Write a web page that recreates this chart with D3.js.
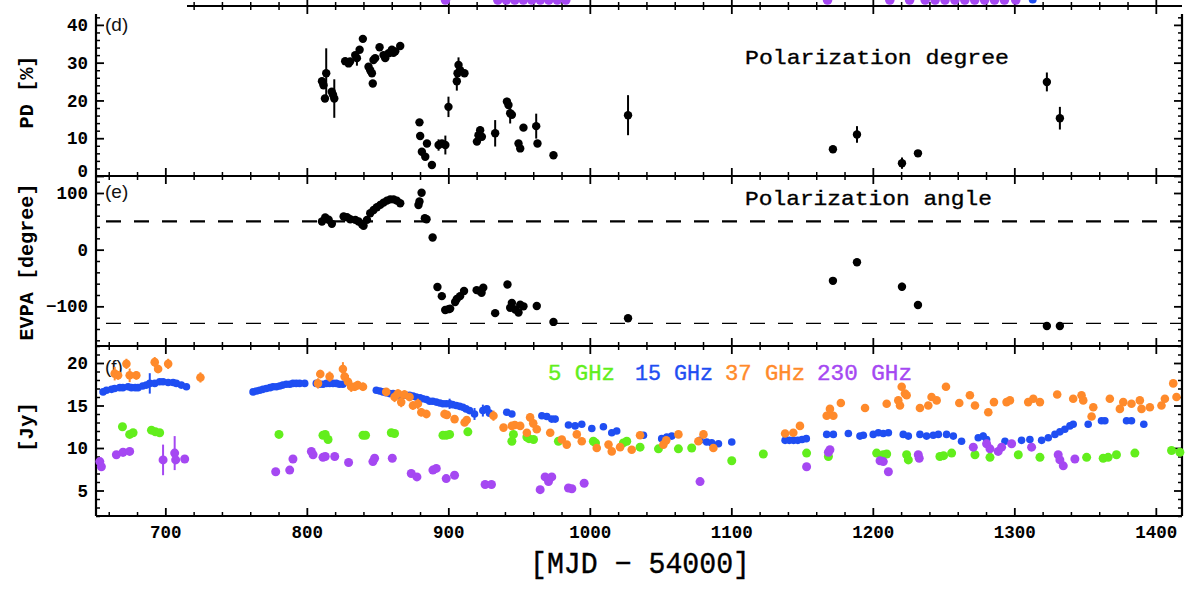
<!DOCTYPE html>
<html><head><meta charset="utf-8">
<script src="https://cdn.jsdelivr.net/npm/d3@7"></script>
<style>body{margin:0;background:#fff}svg{display:block}</style>
</head><body><svg id="c" width="1188" height="589"></svg>
<script>
// ---------------- data ----------------
const xDomain = [651, 1418.5];
const xMajorTicks = [700, 800, 900, 1000, 1100, 1200, 1300, 1400];
const pdTicks = [0, 10, 20, 30, 40];
const evpaTicks = [-100, 0, 100];
const fluxTicks = [5, 10, 15, 20];
const evpaRefLines = [50, -130];
const legendLabels = ["5 GHz", "15 GHz", "37 GHz", "230 GHz"];
const panelTitles = ["Polarization degree", "Polarization angle"];

// [MJD-54000, PD %, error]
const pdData = [[810.7,25.1,0],[811.8,24,0],[812.8,20.5,0],[813.7,27.2,6.6],[817.6,22.3,0],[818.5,21.5,0],[819.4,20.5,5.1],
[827.1,30.4,0],[829.5,29.8,0],[830.6,30.3,0],[834.2,32,0],[835.4,31.2,2],[837.3,33.4,0],[839.6,36.3,0],[843.6,28.9,0],[844.8,28,0],
[846,27.2,0],[846.6,24.5,0],[847.1,30.7,0],[848.3,31.2,0],[851.4,34.1,0],[854.2,32,0],[855.4,31.2,0],[857.8,32.5,0],[860.1,33.4,0],
[861.2,32.6,0],[862.5,33,0],[866,34.4,0],[879.6,14.2,0],[880.1,10.6,0],[881.3,6.4,0],[883.7,5.1,0],[884.9,8.6,0],[888.4,2.9,0],
[893.1,8.2,1.5],[895.5,8.6,0],[897.9,8.2,2.5],[900.1,18.3,2.7],[906,25.1,2.5],[906.5,27.2,0],[907.2,29.4,2],[908.3,28,0],[911.4,27.2,0],
[920.2,9.1,0],[921.3,10.8,0],[922.5,12.1,1],[923.7,10.4,0],[933.1,11.3,3.5],[941.4,19.7,1],[942.5,18.8,0],[943.7,16.6,2.7],[944.9,16.2,0],
[949.6,8.6,0.8],[950.8,7.3,0],[953.1,12.8,0],[962.1,13.2,3.3],[963,8.6,0],[974.3,5.5,0],[1027,16.1,5.3],[1171.8,7.1,0],[1188.8,11,2.2],
[1220.6,3.4,1.5],[1231.9,6,0.5],[1323,24.9,2.5],[1332.2,15.3,3]];

// [MJD-54000, EVPA deg, error]
const evpaData = [[810.7,49.6,0],[813,57,0],[815.4,52.7,0],[817.7,45.6,0],[826,58.4,0],[828.4,57.3,0],[830.7,53.8,0],[834.3,52.6,0],
[836.6,49.6,0],[839,45,0],[840.1,42,0],[842.5,52.6,0],[844.8,64.3,0],[847.2,70,0],[849.5,75,0],[851.9,79,0],[854.2,83,0],[856.6,86.5,0],
[858.9,88.8,0],[861.3,88.8,0],[863.6,86.5,0],[866,81.8,0],[878.9,78.9,0],[879.6,85,0],[881.1,100.5,0],[883.4,55.4,0],[884.6,53.8,0],
[888.9,21.6,6],[892.3,-66,0],[895.4,-82,0],[897.8,-106.5,0],[900.1,-105,0],[901.3,-104,0],[904.8,-92.4,0],[906,-87,0],[908.3,-82,0],
[911.1,-73,0],[920,-71.4,0],[922.3,-73,0],[923.5,-76,0],[924.7,-67,0],[933.1,-112,0],[941.8,-61.4,0],[943.7,-102.5,0],[944.9,-94,0],
[947.3,-105.6,0],[949.6,-111,0],[950.8,-97,0],[953.1,-100,0],[962.5,-99.5,0],[974.3,-127.5,0],[1027,-121,0],[1171.8,-55,0],
[1188.8,-22.3,0],[1220.6,-65.5,7],[1231.9,-97.7,0],[1323,-134.6,0],[1332.2,-134.6,0]];

// [MJD-54000, flux Jy, error]
const flux5 = [[669.7,12.5],[674.8,11.6],[677.2,11.8],[690.2,12.1],[693,11.9],[696,11.8],[780.3,11.6],[811.4,11.5],[813,11.6],[815,11],
[839.7,11.5],[841.5,11.5],[859.7,11.8],[862,11.7],[896.2,11.5],[898.5,11.5],[900.9,11.6],[913.8,11.9],[944.9,10.8],[946,11.6],[955.5,11.3],
[957,11.1],[960.2,11],[977.8,10.8],[1002.5,10.8],[1004,10.6],[1023.7,10.6],[1026.1,10.8],[1035.5,10.1],[1048.5,9.9],[1062.6,9.9],[1072,10],
[1100.3,8.5],[1122.6,9.3],[1153.2,9.4],[1168.6,9],[1202.7,9.4],[1207.4,9.2],[1209.8,9.3],[1223.9,9.2],[1225.1,8.6],[1247.4,9],[1250,9.1],
[1255.7,9.4],[1272.2,9.2],[1282.8,8.9],[1302.8,9.2],[1318.1,8.9],[1351.1,8.9],[1362.8,8.8],[1366.3,8.9],[1372.2,9.2],[1385.2,9.4],
[1411.1,9.7],[1417,9.5]];

const flux15 = [[656,16.6],[658.4,16.8],[662,16.9],[664.2,17],[667.8,17.1],[670,17.1],[673.7,17.2],[676,17.1],[678.7,17.1],[680.7,17.1,0.4],
[684,17.3],[686.6,17.4],[689,17.6,1.2],[692.5,17.6],[696,17.8],[698.4,17.8],[702,17.7],[705.5,17.7],[707.8,17.6],[711.3,17.4],[714.9,17.2],
[762,16.6],[764.5,16.7],[766.7,16.8],[769,16.9],[771.4,17],[774,17.1],[776.1,17.2],[778.5,17.2],[780.8,17.3],[783,17.4],[785.5,17.5,0.3],
[788,17.5],[790.2,17.6],[792.5,17.6],[794.9,17.6],[798.5,17.6],[806.7,17.6],[809,17.5],[811.4,17.5],[814,17.6],[816.1,17.6],[818.5,17.6],
[820.8,17.6],[823,17.5],[825.5,17.5],[849.1,16.8],[851.5,16.7],[853.8,16.6],[856,16.5],[858.5,16.4],[861,16.4],[863.2,16.3],[865.5,16.2],
[868,16.2],[870,16.2],[872.6,16.2],[875,16.1],[877.3,16],[880,15.9],[882,15.8],[884.5,15.7],[886.8,15.5],[889,15.5],[891.5,15.4],[894,15.3],
[896.2,15.2],[898.5,15.2],[900.9,15.2,0.6],[903,15.1],[905.6,15],[908,14.9],[910.3,14.8],[912.5,14.6],[915,14.4],[918.5,14,0.7],
[924.4,14.4,0.7],[927.2,14.6],[929.1,14.1],[941.3,14.2],[944.9,14],[966.1,13.8],[969.6,13.7],[973.1,13.4],[975.5,13.4],[984.9,12.7],
[989.6,12.6],[994.3,12.8],[1001.4,12.3],[1009.6,12.5],[1015.5,11.8],[1019,12],[1037.9,11.5],[1050.8,11.1],[1054.4,11.3],[1057.9,11.4],
[1077.9,10.9],[1082.6,10.7],[1086.1,10.6],[1090.9,10.5],[1100.3,10.7],[1138,10.9],[1141,10.9],[1144,10.9],[1147,10.9],[1150,11],[1153,11.1],
[1167.4,11.6],[1172.1,11.6],[1182.7,11.7],[1190.9,11.4],[1193.3,11.5],[1200.3,11.6],[1203.9,11.8],[1207.4,11.7],[1211,11.8],[1221.5,11.6],
[1225.1,11.4],[1233.3,11.6],[1238,11.4],[1242.7,11.5],[1246.3,11.6],[1252.1,11.6],[1256.9,11.4],[1262.7,10.8],[1274.5,11.2],[1278,11.4,0.4],
[1280.4,11],[1293.4,10.8],[1305.1,10.9],[1311,11],[1319.3,10.9],[1324,11.2],[1328.7,11.6],[1332.2,11.9],[1335.7,12.2],[1339.3,12.6],
[1341.6,12.8],[1352.2,12.8],[1361.6,13.2],[1364,13.2],[1379.3,13.2],[1382.8,13.2],[1391.5,12.8]];

const flux37 = [[664.2,18.75,0.8],[666.6,18.55,0.5],[672.5,19.9,0.6],[674.8,18.55,0.8],[679.5,18.55,0.5],[692.5,20.1,0.6],[694.9,19.3,0.5],
[702,19.9,0.6],[724.8,18.3,0.6],[807.9,17.6,0.6],[809.5,18.7,0.5],[816.1,18.4,0.6],[825.5,19.3,0.8],[826.7,18.4,0.6],[829.1,17.8,0.8],
[831.4,17.2,0.6],[833.8,17.2,0.5],[836,17.4,0.5],[839.7,17.2,0.5],[856.1,16.6,0.4],[862,16,0.6],[864.4,16.4,0.5],[866.7,15.4,0.6],
[869,16.3,0.5],[872.6,16,0.5],[875,15,0.5],[878.5,15.2,0.6],[880.9,14.2,0.5],[884.5,14,0.5],[897.3,14,0.5],[899,13.9,0.4],[904.4,13.4,0.4],
[911.5,13,0.4],[913,13.3,0.4],[931.9,13.8,0.6],[939,12.4,0.4],[944.9,12.6,0.4],[947,12.7,0.4],[950.8,12.6,0.4],[955.5,11.8,0.4],
[957.8,13.6,0.5],[960,12.9,0.5],[962.5,12.2,0.4],[972,11.8,0.4],[980.2,11,0.4],[983.7,10.4,0.4],[990.8,11.6,0.4],[994.3,10.8,0.4],
[1004.9,10,0.3],[1013.2,10.4,0.4],[1015.5,9.6,0.4],[1021.4,10.1,0.4],[1029.6,9.8,0.3],[1035.5,11.5,0.4],[1052,10.4,0.4],[1054,10.9,0.4],
[1062.6,11.6,0.4],[1076.7,10.8,0.4],[1080.3,11.6,0.5],[1087.3,10,0.4],[1138,11.7,0.3],[1143.8,11.8,0.3],[1148.5,12.6,0.3],[1167.4,13.8,0.4],
[1169.7,14.6,0.4],[1172.1,13.8,0.3],[1177.4,15.3,0.3],[1194.5,14.7,0.3],[1209.8,15.2,0.3],[1218,15.6,0.4],[1219.2,15,0.3],[1220.4,17.2,0.4],
[1222.7,16.4,0.4],[1223.9,16.2,0.3],[1233.3,14.7,0.3],[1239.2,15,0.3],[1241.5,16,0.4],[1245.1,15.6,0.3],[1251.7,17.2,0.3],[1261.1,15.3,0.3],
[1268.6,16.2,0.4],[1272.2,15,0.3],[1281.6,14.2,0.3],[1285.6,15.4,0.3],[1294.5,15.4,0.4],[1296.9,15.6,0.3],[1309.8,15.4,0.3],[1313.4,15.8,0.3],
[1318.1,15.4,0.3],[1330.3,16.3,0.4],[1341.6,15.8,0.3],[1347.5,16.2,0.3],[1348.7,15.6,0.3],[1354.6,13.7,0.3],[1355.8,14.8,0.3],[1367.5,15.8,0.3],
[1374.6,14.6,0.3],[1377,15.4,0.3],[1382.8,15.2,0.3],[1388.7,15.6,0.3],[1389.9,14.6,0.3],[1395.8,14.8,0.3],[1404,15,0.3],[1406.4,15.8,0.3],
[1412.3,17.6,0.3],[1414.6,16,0.3]];

const flux230 = [[653.7,8.4],[654.8,7.8],[665.4,9.2],[670.1,9.5,0.5],[674.8,9.6],[698.4,8.6,1.8],[706.6,9.4,2],[707.3,8.6],[713.7,8.7],
[778,7.2],[787.9,7.4],[790.2,8.7],[803.2,9.6],[804.4,9.2],[811.4,8.9],[813,9],[819.7,9],[829.5,8.3],[846.7,8.4],[847.9,8.8],[860.4,8.8],
[873.8,7],[877.8,6.6],[889.1,7.4],[891.5,7.6],[898.5,6.4],[904.4,6.8],[926,5.7],[930.5,5.7],[964.9,5.1],[968.4,6.6],[970.8,6.05],[973.1,6.6],
[984.9,5.3],[987.3,5.2],[996,5.85],[1077.9,6.05],[1153.2,7.8],[1168.6,9.5],[1169.7,9.8],[1205.1,8.5],[1207.4,8.4],[1211,7.2],[1232.1,9.2],
[1232.8,8.8],[1271,10.1],[1280.4,10.5],[1282.8,9.9],[1288.6,9.6],[1291,10.1],[1298.1,10.5],[1312.2,10.1],[1331,9.2],[1332.2,8.6],
[1334.6,7.9],[1342.8,8.7]];

// edges of the panel above (c), cut off at the top of the figure
const cutoff230 = [898, 935, 941, 947, 953, 959, 965, 971, 977, 983, 1168, 1212, 1226, 1237, 1244, 1251, 1258, 1265, 1272, 1279, 1286, 1293, 1301];
const cutoff15 = [1313];

// ---------------- drawing ----------------
const colors = {g5:"#62ee1c", b15:"#1f4ef2", o37:"#ff8a2b", p230:"#a548f2"};
const svg = d3.select("#c");
const L = 96, R = 1182;
const x = d3.scaleLinear().domain(xDomain).range([L, R]);
const xMinor = d3.range(660, 1420, 20).filter(v => v % 100 !== 0 && v >= xDomain[0] && v <= xDomain[1]);

const panels = [
  {top:6, bottom:176, domain:[0,45], major:pdTicks, minor:d3.range(0,46,2).filter(v=>v%10!==0), leftTop:14, topFrom:187,
   label:"PD [%]", labelY:92, labelLen:73, tag:"(d)", tagY:31},
  {top:176, bottom:346, domain:[-170,130], major:evpaTicks, minor:d3.range(-160,130,20).filter(v=>v%100!==0), leftTop:176, topFrom:L,
   label:"EVPA [degree]", labelY:262, labelLen:157, tag:"(e)", tagY:198},
  {top:346, bottom:516, domain:[2,22], major:fluxTicks, minor:d3.range(2,23,1).filter(v=>v%5!==0), leftTop:346, topFrom:L,
   label:"[Jy]", labelY:427, labelLen:50, tag:"(f)", tagY:373}
];
panels.forEach(p => p.y = d3.scaleLinear().domain(p.domain).range([p.bottom, p.top]));

const tickFont = g => g.attr("font-family","'Liberation Mono', monospace").attr("font-weight","bold").attr("font-size",17.5).attr("fill","#000");
function styleAxis(g, w){ g.select(".domain").remove(); g.selectAll(".tick line").attr("stroke","#000").attr("stroke-width",w); g.selectAll("text").attr("fill","#000"); }

panels.forEach((p, i) => {
  const isLast = i === panels.length - 1;
  const gl = svg.append("g").attr("transform",`translate(${L},0)`)
    .call(d3.axisLeft(p.y).tickValues(p.major).tickSize(-8).tickPadding(8).tickFormat(d3.format("d")));
  styleAxis(gl, 1.8); tickFont(gl);
  gl.selectAll(".tick").filter(d => p.y(d) < p.leftTop - 1).select("line").remove();
  // label sitting on the panel boundary: lift it slightly so it clears the panel below
  gl.selectAll(".tick").filter(d => Math.abs(p.y(d) - p.bottom) < 1 && i < panels.length - 1)
    .select("text").attr("dy", "0.05em");
  const glm = svg.append("g").attr("transform",`translate(${L},0)`)
    .call(d3.axisLeft(p.y).tickValues(p.minor).tickSize(-4).tickFormat(""));
  styleAxis(glm, 1.5);
  glm.selectAll(".tick").filter(d => p.y(d) < p.leftTop).remove();
  const gr = svg.append("g").attr("transform",`translate(${R},0)`)
    .call(d3.axisRight(p.y).tickValues(p.major).tickSize(-8).tickFormat(""));
  styleAxis(gr, 1.8);
  const grm = svg.append("g").attr("transform",`translate(${R},0)`)
    .call(d3.axisRight(p.y).tickValues(p.minor).tickSize(-4).tickFormat(""));
  styleAxis(grm, 1.5);
  gr.selectAll(".tick").filter(d => p.y(d) < p.leftTop).remove();
  grm.selectAll(".tick").filter(d => p.y(d) < p.leftTop).remove();
  const gt = svg.append("g").attr("transform",`translate(0,${p.top})`)
    .call(d3.axisBottom(x).tickValues(xMajorTicks).tickSize(8).tickFormat(""));
  styleAxis(gt, 1.8);
  const gtm = svg.append("g").attr("transform",`translate(0,${p.top})`)
    .call(d3.axisBottom(x).tickValues(xMinor).tickSize(4).tickFormat(""));
  styleAxis(gtm, 1.5);
  [gt, gtm].forEach(g => g.selectAll(".tick").filter(d => x(d) < p.topFrom).remove());
  if (i === 0) {
    const gu = svg.append("g").attr("transform",`translate(0,${p.top})`)
      .call(d3.axisTop(x).tickValues(xMajorTicks).tickSize(6).tickFormat(""));
    styleAxis(gu, 1.8);
    const gum = svg.append("g").attr("transform",`translate(0,${p.top})`)
      .call(d3.axisTop(x).tickValues(xMinor).tickSize(4).tickFormat(""));
    styleAxis(gum, 1.5);
    [gu, gum].forEach(g => g.selectAll(".tick").filter(d => x(d) < p.topFrom).remove());
  }
  const gb = svg.append("g").attr("transform",`translate(0,${p.bottom})`)
    .call(d3.axisBottom(x).tickValues(xMajorTicks).tickSize(-8).tickPadding(10).tickFormat(isLast ? d3.format("d") : ""));
  styleAxis(gb, 1.8); tickFont(gb);
  const gbm = svg.append("g").attr("transform",`translate(0,${p.bottom})`)
    .call(d3.axisBottom(x).tickValues(xMinor).tickSize(-4).tickFormat(""));
  styleAxis(gbm, 1.5);
  const fr = svg.append("g").attr("stroke","#000").attr("stroke-width",2.2).attr("fill","none");
  fr.append("line").attr("x1",L).attr("x2",L).attr("y1",p.leftTop).attr("y2",p.bottom);
  fr.append("line").attr("x1",R).attr("x2",R).attr("y1",p.leftTop).attr("y2",p.bottom);
  fr.append("line").attr("x1",p.topFrom).attr("x2",R).attr("y1",p.top).attr("y2",p.top);
  fr.append("line").attr("x1",L).attr("x2",R).attr("y1",p.bottom).attr("y2",p.bottom);
  svg.append("text").attr("transform",`translate(33,${p.labelY}) rotate(-90)`)
    .attr("text-anchor","middle").attr("font-family","'Liberation Mono', monospace").attr("font-weight","bold")
    .attr("font-size",20).attr("textLength",p.labelLen).attr("lengthAdjust","spacingAndGlyphs").text(p.label);
  svg.append("text").attr("x",105).attr("y",p.tagY).attr("font-family","'Liberation Sans', Arial, sans-serif")
    .attr("font-size",19).attr("fill","#111").text(p.tag);
});

svg.append("g").selectAll("circle").data(cutoff230).join("circle")
  .attr("cx", d => x(d)).attr("cy", 0).attr("r", 4.8).attr("fill", colors.p230);
svg.append("g").selectAll("circle").data(cutoff15).join("circle")
  .attr("cx", d => x(d)).attr("cy", -0.5).attr("r", 4).attr("fill", colors.b15);

function plot(p, data, color, r){
  const g = svg.append("g");
  g.selectAll("line").data(data.filter(d => d[2])).join("line")
    .attr("x1", d => x(d[0])).attr("x2", d => x(d[0]))
    .attr("y1", d => p.y(d[1] - d[2])).attr("y2", d => p.y(d[1] + d[2]))
    .attr("stroke", color).attr("stroke-width", 2);
  g.selectAll("circle").data(data).join("circle")
    .attr("cx", d => x(d[0])).attr("cy", d => p.y(d[1])).attr("r", r).attr("fill", color);
}

plot(panels[0], pdData, "#000", 4.2);
svg.append("text").attr("x",745).attr("y",64).attr("font-family","'Liberation Mono', monospace")
  .attr("font-size",21).attr("textLength",264).attr("lengthAdjust","spacingAndGlyphs").attr("stroke","#000").attr("stroke-width",0.35)
  .text(panelTitles[0]);

const pe = panels[1];
svg.append("g").selectAll("line").data(evpaRefLines).join("line")
  .attr("x1", L).attr("x2", R).attr("y1", d => pe.y(d)).attr("y2", d => pe.y(d))
  .attr("stroke","#000").attr("stroke-width", (d,i) => i === 0 ? 2.4 : 1.4)
  .attr("stroke-dasharray","15,13").attr("stroke-dashoffset",18);
plot(pe, evpaData, "#000", 4.2);
svg.append("text").attr("x",745).attr("y",205).attr("font-family","'Liberation Mono', monospace")
  .attr("font-size",21).attr("textLength",247).attr("lengthAdjust","spacingAndGlyphs").attr("stroke","#000").attr("stroke-width",0.35)
  .text(panelTitles[1]);

const pf = panels[2];
plot(pf, flux15, colors.b15, 3.8);
plot(pf, flux5, colors.g5, 4.5);
plot(pf, flux37, colors.o37, 4.3);
plot(pf, flux230, colors.p230, 4.5);

const legendColors = [colors.g5, colors.b15, colors.o37, colors.p230];
const legendX = [548, 635, 725, 817];
const legendW = [67, 78, 80, 95];
legendLabels.forEach((t, i) => {
  svg.append("text").attr("x", legendX[i]).attr("y", 380).attr("font-family","'Liberation Mono', monospace")
    .attr("font-size", 22).attr("fill", legendColors[i]).attr("stroke", legendColors[i]).attr("stroke-width", 0.4)
    .attr("textLength", legendW[i]).attr("lengthAdjust","spacingAndGlyphs").text(t);
});

svg.append("text").attr("x",530).attr("y",573).attr("font-family","'Liberation Mono', monospace")
  .attr("font-size",30).attr("textLength",220).attr("lengthAdjust","spacingAndGlyphs").attr("stroke","#000").attr("stroke-width",0.4)
  .text("[MJD − 54000]");
</script></body></html>
